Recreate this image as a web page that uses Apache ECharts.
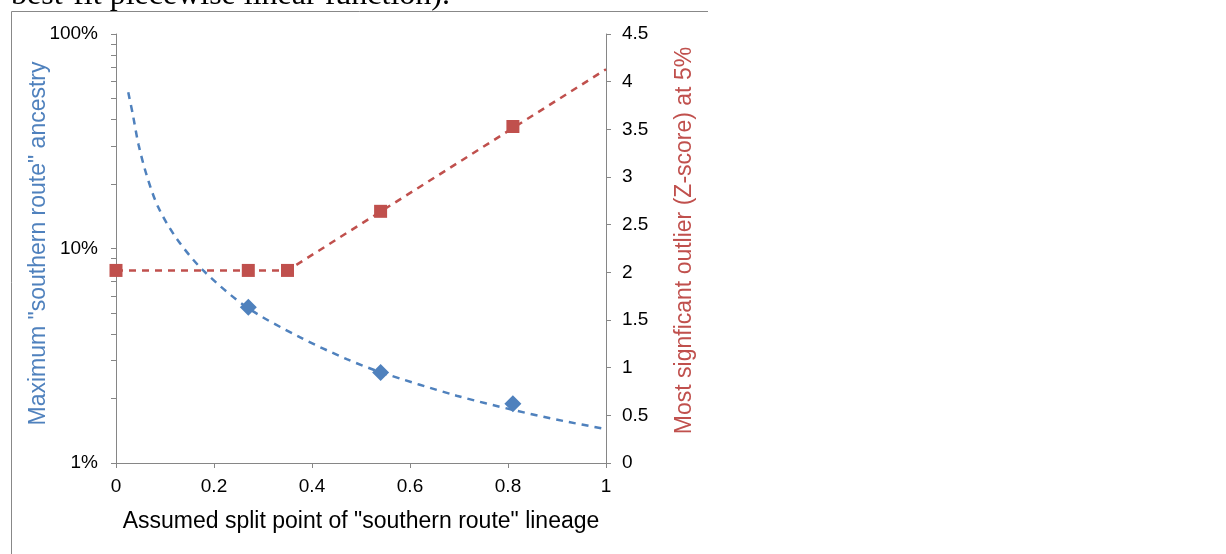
<!DOCTYPE html>
<html><head><meta charset="utf-8">
<script src="https://cdn.jsdelivr.net/npm/echarts@6/dist/echarts.min.js"></script>
<style>html,body{margin:0;padding:0;background:#fff}#c{width:1226px;height:554px}</style>
</head><body><div id="c"></div>
<script>
// x axis
const xMin = 0, xMax = 1, xStep = 0.2;
// left axis (log, percent)
const leftTickValues = [1,2,3,4,5,6,7,8,9,10,20,30,40,50,60,70,80,90,100];
const leftLabelValues = [1,10,100];
// right axis
const rightMin = 0, rightMax = 4.5, rightStep = 0.5;

// blue fitted curve, % values
const curveX = [0.025,0.034,0.046,0.063,0.086,0.124,0.178,0.267,0.376,0.471,0.542,0.695,0.814,0.913,1.0];
const curveY = [53.5,42.5,30.5,21.8,15.6,11.1,7.9,5.32,3.85,3.05,2.64,2.06,1.76,1.57,1.44];
// blue diamonds
const ancestryX = [0.27,0.54,0.81];
const ancestryY = [5.32,2.64,1.89];
// red squares
const zX = [0,0.27,0.35,0.54,0.81];
const zY = [2.02,2.02,2.02,2.64,3.53];
// red piecewise linear fit
const zFitX = [0,0.35,1];
const zFitY = [2.02,2.02,4.13];

const zip = (a,b) => a.map((v,i)=>[v,b[i]]);
const BLUE = '#4f81bd', RED = '#c0504d', AX = '#868686';
const FONT = 'Liberation Sans, Arial, sans-serif';

const chart = echarts.init(document.getElementById('c'), null, {renderer:'canvas'});
chart.setOption({
  animation:false,
  backgroundColor:'#fff',
  grid:{left:116, right:620, top:34, bottom:91, containLabel:false},
  xAxis:{
    type:'value', min:xMin, max:xMax, interval:xStep,
    name:'Assumed split point of "southern route" lineage',
    nameLocation:'middle', nameGap:47,
    nameTextStyle:{fontFamily:FONT, fontSize:23, color:'#000'},
    axisLine:{show:true, onZero:false, lineStyle:{color:AX, width:1}},
    axisTick:{show:true, inside:false, length:5, lineStyle:{color:AX}},
    axisLabel:{fontFamily:FONT, fontSize:19, color:'#000', margin:14},
    splitLine:{show:false}
  },
  yAxis:[{
    type:'log', logBase:10, min:1, max:100, position:'left',
    name:'Maximum "southern route" ancestry',
    nameLocation:'middle', nameGap:66, nameMoveOverlap:false,
    nameTextStyle:{fontFamily:FONT, fontSize:23, color:BLUE, padding:[0,0,0,10]},
    axisLine:{show:true, lineStyle:{color:AX, width:1}},
    axisTick:{show:true, length:5, lineStyle:{color:AX}, customValues:leftTickValues},
    axisLabel:{fontFamily:FONT, fontSize:19, color:'#000', margin:18, customValues:leftLabelValues, formatter:v=>Math.round(v)+'%'},
    splitLine:{show:false}
  },{
    type:'value', min:rightMin, max:rightMax, interval:rightStep, position:'right',
    name:'Most signficant outlier (Z-score) at 5%',
    nameLocation:'middle', nameGap:67,
    nameTextStyle:{fontFamily:FONT, fontSize:23, color:RED, padding:[0,0,0,16]},
    axisLine:{show:true, lineStyle:{color:AX, width:1}},
    axisTick:{show:true, length:5, lineStyle:{color:AX}},
    axisLabel:{fontFamily:FONT, fontSize:19, color:'#000', margin:16},
    splitLine:{show:false}
  }],
  graphic:[
    {type:'text', x:11, y:12, style:{text:'best-fit piecewise linear function).', font:'32px "Liberation Serif", "Times New Roman", serif', fill:'#000', verticalAlign:'bottom'}},
    {type:'line', shape:{x1:11.5, y1:11.5, x2:708, y2:11.5}, style:{stroke:'#888', lineWidth:1}, z:10},
    {type:'rect', shape:{x:0, y:12, width:708, height:2}, style:{fill:'#fff'}, z:5},
    {type:'line', shape:{x1:11.5, y1:11.5, x2:11.5, y2:554}, style:{stroke:'#888', lineWidth:1}, z:10}
  ],
  series:[
    {type:'line', yAxisIndex:0, data:zip(curveX,curveY), smooth:0.3, showSymbol:false, symbol:'none',
     lineStyle:{color:BLUE, width:2.5, type:[7,6]}, z:2},
    {type:'scatter', yAxisIndex:0, data:zip(ancestryX,ancestryY), symbol:'diamond', symbolSize:17,
     itemStyle:{color:BLUE, opacity:1}, z:3},
    {type:'line', yAxisIndex:1, data:zip(zFitX,zFitY), showSymbol:false, symbol:'none',
     lineStyle:{color:RED, width:2.5, type:[7,6]}, z:2},
    {type:'scatter', yAxisIndex:1, data:zip(zX,zY), symbol:'rect', symbolSize:13,
     itemStyle:{color:RED, opacity:1}, z:3}
  ]
});
</script></body></html>
